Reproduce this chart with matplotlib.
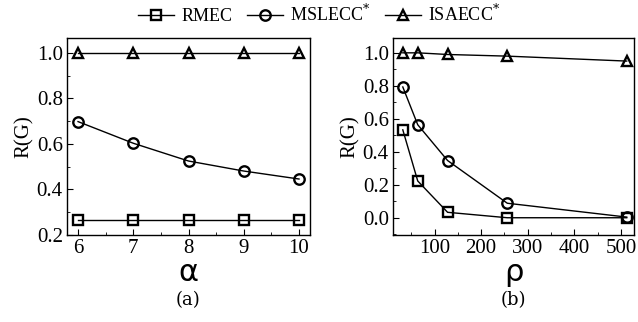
import matplotlib
matplotlib.use('Agg')
import matplotlib.pyplot as plt
from matplotlib.ticker import MultipleLocator

plt.rcParams['font.family'] = ['Liberation Serif', 'DejaVu Serif']
plt.rcParams['mathtext.fontset'] = 'dejavuserif'

# panel (a): R(G) vs alpha
alpha = [6, 7, 8, 9, 10]
rmec_a = [0.265, 0.265, 0.265, 0.265, 0.265]
mslecc_a = [0.698, 0.603, 0.525, 0.481, 0.446]
isaecc_a = [1.0, 1.0, 1.0, 1.0, 1.0]

# panel (b): R(G) vs rho
rho = [32, 64, 128, 256, 512]
rmec_b = [0.533, 0.223, 0.033, 0.0, 0.0]
mslecc_b = [0.793, 0.564, 0.347, 0.088, 0.004]
isaecc_b = [1.0, 1.0, 0.99, 0.98, 0.95]

labels = ['RMEC', r'MSLECC$^{*}$', r'ISAECC$^{*}$']
markers = ['s', 'o', '^']

fig = plt.figure(figsize=(6.38, 3.22), dpi=100)
ax1 = fig.add_axes([0.105, 0.270, 0.381, 0.612])
ax2 = fig.add_axes([0.616, 0.270, 0.378, 0.612])

style = dict(color='black', lw=1.0, markersize=7.5, markerfacecolor='none',
             markeredgewidth=1.7)

lines = []
for ys, m, lab in zip([rmec_a, mslecc_a, isaecc_a], markers, labels):
    l, = ax1.plot(alpha, ys, marker=m, label=lab, **style)
    lines.append(l)
for ys, m in zip([rmec_b, mslecc_b, isaecc_b], markers):
    ax2.plot(rho, ys, marker=m, **style)

ax1.set_xlim(5.8, 10.2)
ax1.set_ylim(0.2, 1.065)
ax1.xaxis.set_major_locator(MultipleLocator(1))
ax1.xaxis.set_minor_locator(MultipleLocator(0.5))
ax1.yaxis.set_major_locator(MultipleLocator(0.2))
ax1.yaxis.set_minor_locator(MultipleLocator(0.1))

ax2.set_xlim(11, 528)
ax2.set_ylim(-0.105, 1.09)
ax2.set_xticks([100, 200, 300, 400, 500])
ax2.xaxis.set_minor_locator(MultipleLocator(50))
ax2.yaxis.set_major_locator(MultipleLocator(0.2))
ax2.yaxis.set_minor_locator(MultipleLocator(0.1))

for ax, xl in [(ax1, 'α'), (ax2, 'ρ')]:
    ax.tick_params(which='both', direction='in', top=False, right=False,
                   labelsize=15, pad=3)
    ax.tick_params(which='major', length=4)
    ax.tick_params(which='minor', length=2)
    ax.yaxis.set_major_formatter(plt.FormatStrFormatter('%.1f'))
    ax.set_ylabel('R(G)', fontsize=15, labelpad=2)
    ax.set_xlabel(xl, fontsize=22, labelpad=0, family='DejaVu Sans')
    for s in ax.spines.values():
        s.set_linewidth(1.0)

fig.text(0.295, 0.068, '(a)', ha='center', va='center', fontsize=13,
         family='DejaVu Serif')
fig.text(0.805, 0.068, '(b)', ha='center', va='center', fontsize=13,
         family='DejaVu Serif')

fig.legend(handles=lines, loc='center', bbox_to_anchor=(0.5, 0.955), ncol=3,
           frameon=False, fontsize=13, handlelength=2.0, columnspacing=0.8,
           handletextpad=0.4)

fig.savefig('out.png', dpi=100)
